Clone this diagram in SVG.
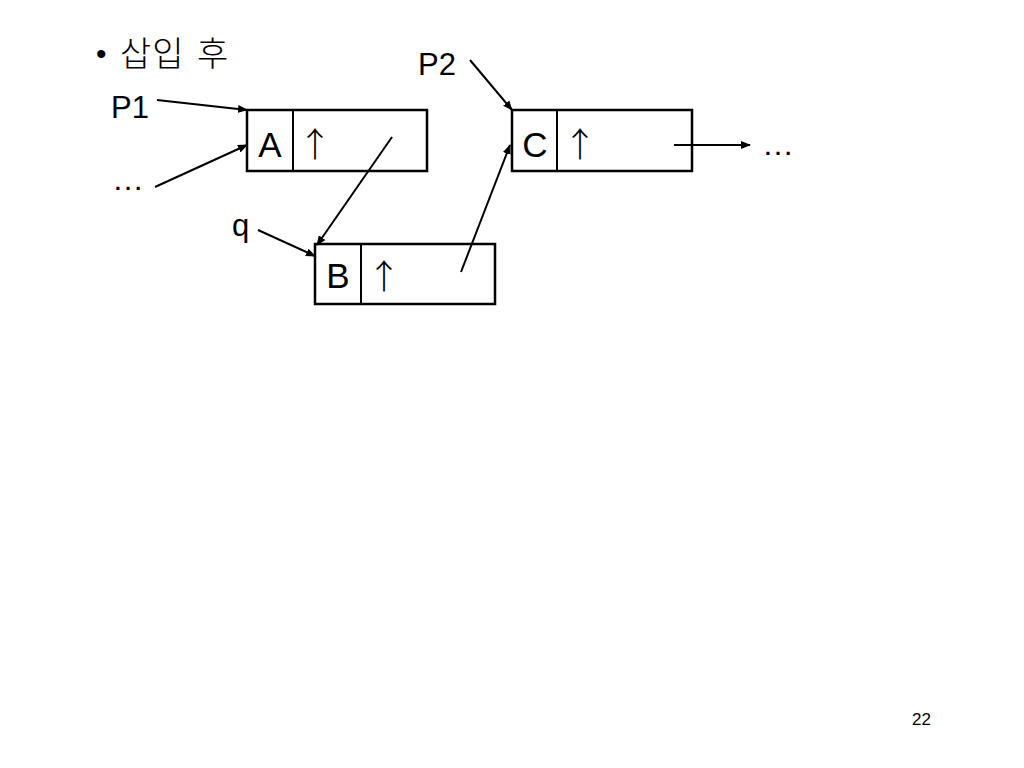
<svg xmlns="http://www.w3.org/2000/svg" width="1024" height="768" viewBox="0 0 1024 768">
<defs>
<style>
.t{font-family:"Liberation Sans","Noto Sans CJK KR",sans-serif;fill:#000}
.k{font-family:"Noto Sans CJK KR",sans-serif;fill:#000}
.ar{font-family:"Noto Sans CJK KR",sans-serif;font-weight:300;fill:#000}
.box{fill:#fff;stroke:#000;stroke-width:2.5}
.ln{stroke:#000;stroke-width:2;fill:none}
</style>
<marker id="ah" viewBox="0 0 10 10" refX="9" refY="5" markerWidth="5" markerHeight="5" orient="auto"><path d="M0,1 L10,5 L0,9 z" fill="#000"/></marker>
</defs>
<rect width="1024" height="768" fill="#fff"/>
<g id="title">
<text class="t" x="96" y="64" font-size="30">•</text>
<text class="k" x="120" y="66" font-size="34" font-weight="300" letter-spacing="1">삽입</text>
<text class="k" x="197" y="66" font-size="34" font-weight="300">후</text>
</g>
<text class="t" x="111" y="118" font-size="31">P1</text>
<text class="t" x="112" y="190" font-size="32">…</text>
<text class="t" x="232" y="236" font-size="31">q</text>
<text class="t" x="418" y="75" font-size="31">P2</text>
<text class="t" x="762" y="155" font-size="32">…</text>
<text class="t" x="912" y="725" font-size="17">22</text>
<g id="nodeA">
<rect class="box" x="247" y="110" width="180" height="61"/>
<line class="ln" x1="293" y1="110" x2="293" y2="171" stroke-width="2.5"/>
<text class="t" x="270" y="157" font-size="35" text-anchor="middle">A</text>
<text class="ar" x="315" y="157" font-size="34" text-anchor="middle">↑</text>
</g>
<g id="nodeB">
<rect class="box" x="315" y="244" width="180" height="60"/>
<line class="ln" x1="361" y1="244" x2="361" y2="304" stroke-width="2.5"/>
<text class="t" x="338" y="288" font-size="35" text-anchor="middle">B</text>
<text class="ar" x="384" y="289" font-size="34" text-anchor="middle">↑</text>
</g>
<g id="nodeC">
<rect class="box" x="512" y="110" width="180" height="61"/>
<line class="ln" x1="557" y1="110" x2="557" y2="171" stroke-width="2.5"/>
<text class="t" x="535" y="157" font-size="35" text-anchor="middle">C</text>
<text class="ar" x="580" y="157" font-size="34" text-anchor="middle">↑</text>
</g>
<g id="connectors">
<line class="ln" x1="157" y1="100" x2="247" y2="110" marker-end="url(#ah)"/>
<line class="ln" x1="155" y1="187" x2="247" y2="145" marker-end="url(#ah)"/>
<line class="ln" x1="392" y1="137" x2="317" y2="245" marker-end="url(#ah)"/>
<line class="ln" x1="258" y1="230" x2="315" y2="256" marker-end="url(#ah)"/>
<line class="ln" x1="461" y1="272" x2="510" y2="145" marker-end="url(#ah)"/>
<line class="ln" x1="470" y1="60" x2="512" y2="110" marker-end="url(#ah)"/>
<line class="ln" x1="674" y1="145" x2="750" y2="145" marker-end="url(#ah)"/>
</g>
</svg>
